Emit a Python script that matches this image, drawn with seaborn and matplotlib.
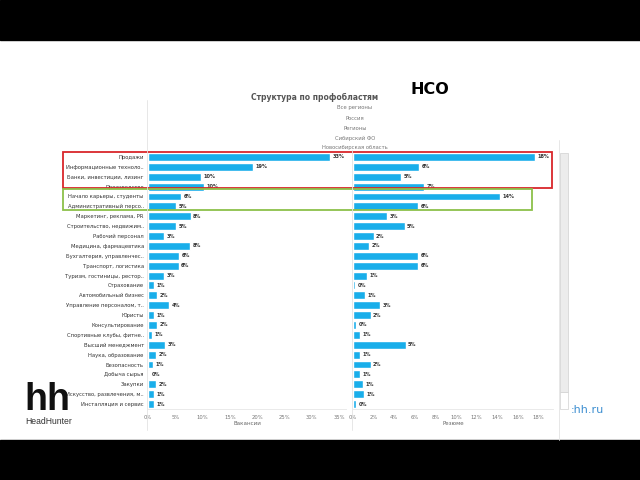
import matplotlib
matplotlib.use("Agg")
import matplotlib.pyplot as plt
import seaborn as sns
import pandas as pd
from matplotlib.patches import Rectangle
from matplotlib.lines import Line2D

categories = [
    "Продажи", "Информационные техноло..", "Банки, инвестиции, лизинг", "Производство",
    "Начало карьеры, студенты", "Административный персо..", "Маркетинг, реклама, PR",
    "Строительство, недвижим..", "Рабочий персонал", "Медицина, фармацевтика",
    "Бухгалтерия, управленчес..", "Транспорт, логистика", "Туризм, гостиницы, рестор..",
    "Страхование", "Автомобильный бизнес", "Управление персоналом, т..", "Юристы",
    "Консультирование", "Спортивные клубы, фитне..", "Высший менеджмент",
    "Наука, образование", "Безопасность", "Добыча сырья", "Закупки",
    "Искусство, развлечения, м..", "Инсталляция и сервис",
]
vacancies = [33.4, 19.3, 9.7, 10.2, 6.1, 5.2, 7.8, 5.2, 3.0, 7.7, 5.7, 5.6, 3.0,
             1.1, 1.7, 3.9, 1.1, 1.7, 0.7, 3.1, 1.5, 0.9, 0.2, 1.5, 1.1, 1.1]
resumes = [17.7, 6.4, 4.7, 6.9, 14.3, 6.3, 3.3, 5.0, 2.0, 1.6, 6.3, 6.3, 1.4,
           0.2, 1.2, 2.6, 1.7, 0.3, 0.7, 5.1, 0.7, 1.7, 0.7, 1.0, 1.1, 0.3]
vac_ticks = [0, 5, 10, 15, 20, 25, 30, 35]
res_ticks = [0, 2, 4, 6, 8, 10, 12, 14, 16, 18]
filters = ["Все регионы", "Россия", "Регионы", "Сибирский ФО", "Новосибирская область"]

df = pd.DataFrame({"cat": categories, "vac": vacancies, "res": resumes})

sns.set_style("white")
plt.rcParams["font.family"] = ["DejaVu Sans"]

W, H = 640, 480
fig = plt.figure(figsize=(6.4, 4.8), dpi=100)

def fx(x): return x / W
def fy(y): return 1 - y / H

# black bands
fig.add_artist(Rectangle((0, fy(40)), 1, 40 / H, transform=fig.transFigure, color="black", zorder=0))
fig.add_artist(Rectangle((0, 0), 1, 40 / H, transform=fig.transFigure, color="black", zorder=0))

BLUE = "#19aeea"
top, bot = 152, 409
axL = fig.add_axes([fx(148), fy(bot), fx(346) - fx(148), (bot - top) / H])
axR = fig.add_axes([fx(353), fy(bot), fx(553) - fx(353), (bot - top) / H])

for ax, col, xmax, ticks, xlabel in [
    (axL, "vac", 36.3, vac_ticks, "Вакансии"),
    (axR, "res", 19.4, res_ticks, "Резюме"),
]:
    sns.barplot(data=df, y="cat", x=col, orient="h", color=BLUE, width=0.8,
                saturation=1, ax=ax)
    ax.set_xlim(0, xmax)
    ax.set_ylim(len(categories) - 0.5, -0.5)
    ax.set_xticks(ticks)
    ax.set_xticklabels([f"{t}%" for t in ticks], fontsize=3.8, color="#777777")
    ax.tick_params(axis="x", length=0, pad=4)
    ax.set_xlabel(xlabel, fontsize=4, color="#666666", labelpad=1)
    ax.set_ylabel("")
    for s in ["top", "right", "left"]:
        ax.spines[s].set_visible(False)
    ax.spines["bottom"].set_color("#e6e6e6")
    ax.spines["bottom"].set_linewidth(0.6)
    vals = df[col].tolist()
    for i, v in enumerate(vals):
        ax.text(v + xmax * 0.012, i, f"{round(v):d}%", fontsize=3.6, va="center",
                ha="left", color="#333333", fontweight="bold")

axL.tick_params(axis="y", length=0, pad=3)
axL.set_yticks(range(len(categories)))
axL.set_yticklabels(categories, fontsize=3.8, color="#333333")
axR.set_yticks([])

# vertical separator lines
for x, y0, y1 in [(147, 100, 430), (352, 150, 430), (559, 140, 440)]:
    fig.add_artist(Line2D([fx(x), fx(x)], [fy(y0), fy(y1)], transform=fig.transFigure,
                          color="#e3e3e3", lw=0.6))

# scroll bar
fig.add_artist(Rectangle((fx(560), fy(392)), 8 / W, (392 - 153) / H, transform=fig.transFigure,
                         facecolor="#ececec", edgecolor="#d0d0d0", lw=0.5))
fig.add_artist(Rectangle((fx(560), fy(409)), 8 / W, 17 / H, transform=fig.transFigure,
                         facecolor="white", edgecolor="#d0d0d0", lw=0.5))

# highlight rectangles
fig.add_artist(Rectangle((fx(63), fy(188)), (552 - 63) / W, 36 / H, transform=fig.transFigure,
                         fill=False, edgecolor="#d9262b", lw=1.3))
fig.add_artist(Rectangle((fx(63), fy(210)), (532 - 63) / W, 21 / H, transform=fig.transFigure,
                         fill=False, edgecolor="#8cc04a", lw=1.3))

# titles
fig.text(fx(315), fy(97), "Структура по профобластям", fontsize=5.5, color="#555555",
         ha="center", va="center", fontweight="bold")
for i, f in enumerate(filters):
    fig.text(fx(355), fy(108 + 10 * i), f, fontsize=3.8, color="#777777", ha="center", va="center")
fig.text(fx(430), fy(90), "НСО", fontsize=11.5, fontweight="bold", color="black",
         ha="center", va="center")

# logo
fig.text(fx(24), fy(410), "hh", fontsize=27, fontweight="bold", color="#111111",
         ha="left", va="baseline", family=["Liberation Sans", "DejaVu Sans"])
fig.text(fx(25), fy(421), "HeadHunter", fontsize=6.2, color="#333333", ha="left",
         va="center", family=["Liberation Sans", "DejaVu Sans"])
fig.text(fx(571), fy(410), ":hh.ru", fontsize=8, color="#3d8fd1", ha="left", va="center")

fig.savefig("out.png", dpi=100, facecolor="white")
